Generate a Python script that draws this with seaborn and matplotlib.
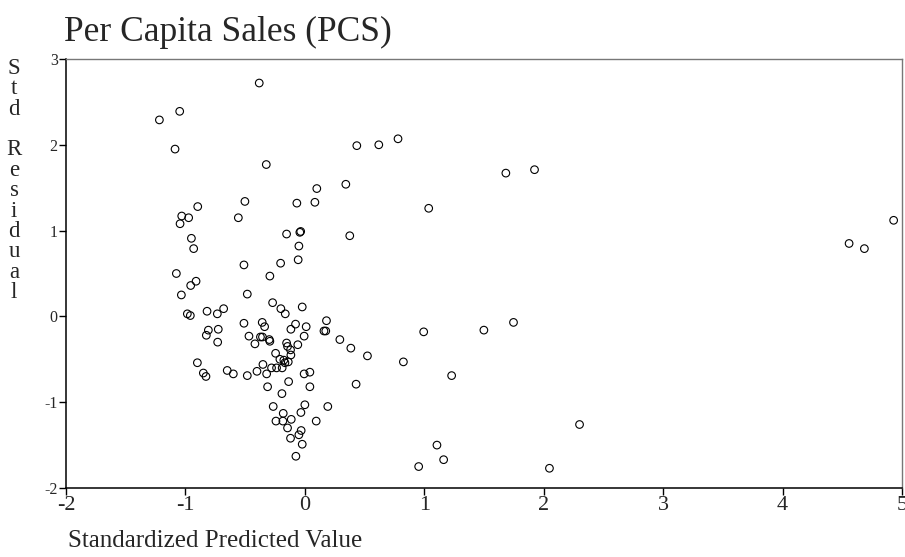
import matplotlib
matplotlib.use("Agg")
import matplotlib.pyplot as plt
import seaborn as sns
import pandas as pd

pred = [-0.382, -1.048, -1.218, -1.087, -0.323, 0.100, -0.502, -0.067, 0.084, -0.897,
        -1.031, -0.973, -1.045, -0.557, -0.153, -0.042, -0.035, -0.950, -0.931, -0.050,
        -0.056, -0.203, -0.510, -1.076, -0.293, -0.911, -0.956, -1.034, -0.482, -0.270,
        -0.201, -0.022, -0.164, -0.984, -0.959, -0.819, -0.733, -0.680, -0.510, -0.357,
        -0.337, -0.078, 0.011, -0.117, 0.181, 0.160, 0.175, 0.293, -0.808, -0.825,
        -0.725, -0.730, -0.468, -0.372, -0.355, -0.298, -0.293, -0.418, -0.006, -0.153,
        -0.145, -0.059, -0.120, -0.245, -0.117, -0.209, -0.176, -0.139, -0.167, -0.900,
        -0.351, -0.279, -0.237, -0.190, -0.650, -0.599, -0.850, -0.828, -0.482, -0.401,
        -0.320, -0.006, 0.042, -0.136, -0.312, 0.042, -0.192, 0.000, -0.265, 0.192,
        -0.181, -0.033, -0.242, -0.184, -0.114, 0.095, -0.145, -0.031, -0.050, -0.120,
        -0.022, -0.075, 0.435, 0.619, 0.780, 0.343, 1.683, 1.923, 1.037, 0.376,
        0.385, 0.995, 1.499, 1.747, 0.524, 0.825, 0.429, 1.229, 1.106, 1.162,
        0.953, 2.048, 2.300, 4.930, 4.557, 4.685]
resid = [2.72, 2.39, 2.29, 1.95, 1.77, 1.49, 1.34, 1.32, 1.33, 1.28,
         1.17, 1.15, 1.08, 1.15, 0.96, 0.98, 0.99, 0.91, 0.79, 0.82,
         0.66, 0.62, 0.60, 0.50, 0.47, 0.41, 0.36, 0.25, 0.26, 0.16,
         0.09, 0.11, 0.03, 0.03, 0.01, 0.06, 0.03, 0.09, -0.08, -0.07,
         -0.12, -0.09, -0.12, -0.15, -0.05, -0.17, -0.17, -0.27, -0.16, -0.22,
         -0.15, -0.30, -0.23, -0.24, -0.24, -0.27, -0.29, -0.32, -0.23, -0.31,
         -0.35, -0.33, -0.39, -0.43, -0.45, -0.50, -0.51, -0.53, -0.54, -0.54,
         -0.56, -0.60, -0.60, -0.60, -0.63, -0.67, -0.66, -0.70, -0.69, -0.64,
         -0.67, -0.67, -0.65, -0.76, -0.82, -0.82, -0.90, -1.03, -1.05, -1.05,
         -1.13, -1.12, -1.22, -1.22, -1.20, -1.22, -1.30, -1.33, -1.38, -1.42,
         -1.49, -1.63, 1.99, 2.00, 2.07, 1.54, 1.67, 1.71, 1.26, 0.94,
         -0.37, -0.18, -0.16, -0.07, -0.46, -0.53, -0.79, -0.69, -1.50, -1.67,
         -1.75, -1.77, -1.26, 1.12, 0.85, 0.79]

x_ticks = [-2, -1, 0, 1, 2, 3, 4, 5]
y_ticks = [-2, -1, 0, 1, 2, 3]
title = "Per Capita Sales (PCS)"
xlabel = "Standardized Predicted Value"
ylabel = "Std Residual"

df = pd.DataFrame({"pred": pred, "resid": resid})

sns.set_style("white")
serif = ["Liberation Serif", "DejaVu Serif"]
plt.rcParams["font.family"] = serif

fig = plt.figure(figsize=(9.05, 5.57), dpi=100)
ax = fig.add_axes([66 / 905, 1 - 488 / 557, (902 - 66) / 905, (488 - 59) / 557])

sns.scatterplot(data=df, x="pred", y="resid", ax=ax, marker="o", s=30,
                facecolor="none", edgecolor="black", linewidth=0.8, legend=False)

ax.set_xlim(-2, 5)
ax.set_ylim(-2, 3)
ax.set_xticks(x_ticks)
ax.set_yticks(y_ticks)
ax.set_xticklabels([str(t) for t in x_ticks], fontsize=16)
ax.set_yticklabels([str(t) for t in y_ticks], fontsize=11.5)
ax.tick_params(axis="both", direction="out", length=5, width=1, color="black",
               bottom=True, left=True, pad=1)
ax.set_xlabel("")
ax.set_ylabel("")
for side in ["left", "bottom"]:
    ax.spines[side].set_color("black")
    ax.spines[side].set_linewidth(1.1)
for side in ["top", "right"]:
    ax.spines[side].set_color("#777777")
    ax.spines[side].set_linewidth(1.0)

fig.text(64 / 905, 1 - 41 / 557, title, fontsize=25.5, ha="left", va="baseline")
fig.text(68 / 905, 1 - 547 / 557, xlabel, fontsize=18, ha="left", va="baseline")
ylab_txt = "\n".join(["S", "t", "d", "", "R", "e", "s", "i", "d", "u", "a", "l"])
fig.text(14 / 905, 1 - 58 / 557, ylab_txt, fontsize=16.5, ha="center", va="top",
         multialignment="center", linespacing=0.96)

fig.savefig("out.png", dpi=100)
